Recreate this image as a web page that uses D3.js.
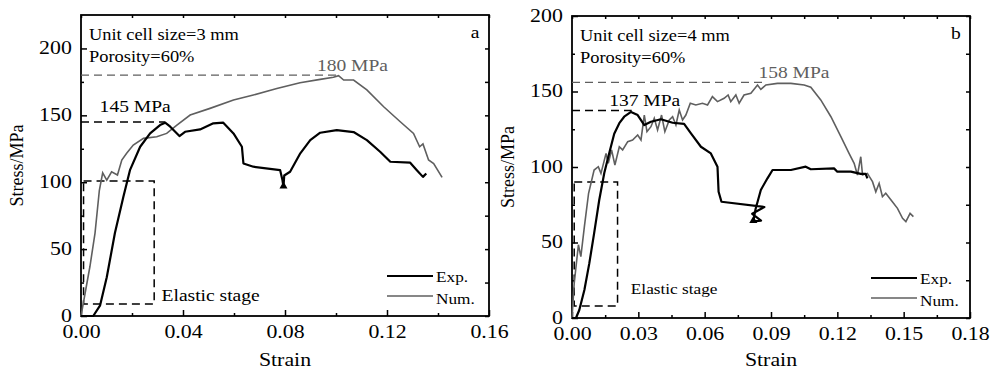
<!DOCTYPE html>
<html>
<head>
<meta charset="utf-8">
<script src="https://cdn.jsdelivr.net/npm/d3@7"></script>
<style>
  body { margin: 0; background: #fff; }
  text { font-family: "Liberation Serif", "Times New Roman", serif; }
</style>
</head>
<body>
<svg id="chart" width="991" height="371"></svg>
<script>
// ---- data (strain, stress MPa) ----
const expA = [[0,0],[0.0048,0],[0.0075,8],[0.0101,29],[0.0133,62],[0.0166,89],[0.0192,109],[0.0232,126.5],
  [0.0271,136.5],[0.031,142.7],[0.033,144.5],[0.035,141.5],[0.0386,134.5],[0.0408,137.7],[0.0467,139.5],
  [0.0519,144],[0.0558,144.5],[0.0598,136.5],[0.0631,126.5],[0.0637,114],[0.0676,111.6],[0.0781,109],
  [0.079,101.6],[0.0794,96.6],[0.0797,105],[0.082,107.8],[0.086,121.6],[0.0899,131.5],[0.0938,137],
  [0.1003,139],[0.1069,137.5],[0.1121,131.5],[0.1173,122.8],[0.1213,115.3],[0.1291,114.6],[0.1317,109],
  [0.1341,104],[0.1354,106.6]];
const numA = [[0,0],[0.0035,37],[0.0055,62],[0.0072,94],[0.0085,107],[0.0101,101.6],[0.012,107.8],
  [0.0143,105.4],[0.016,116.6],[0.0179,121.6],[0.0205,127.8],[0.0245,132.8],[0.0297,134],[0.0336,136.5],
  [0.0376,142.7],[0.0428,150.2],[0.0506,155.2],[0.0598,161.4],[0.0676,165.2],[0.0768,170],[0.0859,174.4],
  [0.0938,176.9],[0.099,178.4],[0.101,179.6],[0.103,176.4],[0.1069,176.4],[0.1121,169],[0.1187,156.4],
  [0.1252,145.2],[0.1304,136.5],[0.1328,126.5],[0.1341,128.6],[0.1363,116.6],[0.1383,114],[0.1416,103.6]];
const expB = [[0,0],[0.0018,0],[0.0033,5.3],[0.0056,18.5],[0.0078,36],[0.01,56],[0.0123,78],[0.0146,96],
  [0.0168,109],[0.0191,122],[0.0214,129],[0.0236,133.3],[0.0267,136.5],[0.0297,134.4],[0.0327,127.8],
  [0.0357,130],[0.0402,131.6],[0.0455,129.3],[0.0507,128.5],[0.0538,122.3],[0.0583,113.4],[0.0628,109],
  [0.0658,100.2],[0.0663,83.6],[0.0676,77],[0.087,73.5],[0.0815,69],[0.0855,64.5],[0.082,64],[0.083,72],
  [0.0854,84.8],[0.0884,92.5],[0.0907,98],[0.099,98],[0.1057,100.2],[0.108,98.5],[0.1185,99.1],[0.12,96.9],
  [0.1261,96.9],[0.1306,95.4],[0.1328,95.4],[0.1336,92.5]];
const numB = [[0,0],[0.001,23],[0.0029,48.5],[0.004,40.6],[0.0056,60.5],[0.0075,82.6],[0.01,98],[0.0119,100.2],
  [0.0131,95.8],[0.0154,109],[0.0164,102.4],[0.0179,111.3],[0.0194,101.3],[0.0214,113.4],[0.0229,111.3],
  [0.0252,116.8],[0.0274,117.9],[0.0297,121.2],[0.0312,117.9],[0.0327,134.4],[0.0339,123.4],[0.0357,126.7],
  [0.0372,132.3],[0.0387,124.5],[0.0405,134.4],[0.042,123.4],[0.044,131.1],[0.0455,133.3],[0.047,127.8],
  [0.0485,137.7],[0.05,131.1],[0.0515,134.4],[0.0535,142.2],[0.056,141.1],[0.059,142.2],[0.0613,141.1],
  [0.0635,146.6],[0.0658,143.3],[0.0688,145.5],[0.0706,147.7],[0.0718,143.3],[0.0741,147.7],[0.0756,142.2],
  [0.0778,147.7],[0.0809,148.8],[0.0839,154.3],[0.0854,151.4],[0.0877,154.3],[0.0929,155.4],[0.099,155.4],
  [0.105,154.3],[0.108,152.8],[0.1125,144.4],[0.1171,133.3],[0.1216,120.1],[0.1253,109],[0.1276,102.4],
  [0.1291,94.7],[0.1306,106.8],[0.1314,94.7],[0.1336,95.8],[0.1359,90.3],[0.1374,83.6],[0.1389,89.2],
  [0.1404,80.3],[0.1419,82.6],[0.1449,77],[0.1472,72.6],[0.1495,66],[0.151,63.8],[0.1529,69.3],[0.1544,67.1]];
// small triangles drawn on the experimental curves' dips
const dipA = [[0.0794, 97]];
const dipB = [[0.082, 64.5]];

const xTicksA = [0, 0.04, 0.08, 0.12, 0.16];
const xMinorA = [0.02, 0.06, 0.10, 0.14];
const xTicksB = [0, 0.03, 0.06, 0.09, 0.12, 0.15, 0.18];
const xMinorB = [0.015, 0.045, 0.075, 0.105, 0.135, 0.165];
const yTicks = [0, 50, 100, 150, 200];
const yMinor = [25, 75, 125, 175];

const GRAY = "#5f5f5f";
const SX = 1.15; // the figure's text is slightly stretched horizontally

const svg = d3.select("#chart");

function txt(g, x, y, s, size, color, anchor) {
  return g.append("text")
    .attr("transform", `translate(${x},${y}) scale(${SX},1)`)
    .attr("font-size", size)
    .attr("fill", color || "#000")
    .attr("text-anchor", anchor || "start")
    .text(s);
}

function drawPanel(p) {
  let x = d3.scaleLinear().domain(p.xDomain).range([p.left, p.right]);
  let y = d3.scaleLinear().domain(p.yDomain).range([p.bottom, p.top]);
  let g = svg.append("g");

  // ticks, all pointing inward
  let fmt = d3.format(".2f");
  let bx = g.append("g").attr("transform", `translate(0,${p.bottom})`)
    .call(d3.axisBottom(x).tickValues(p.xTicks).tickFormat(fmt).tickSize(-6).tickPadding(9));
  g.append("g").attr("transform", `translate(0,${p.bottom})`)
    .call(d3.axisBottom(x).tickValues(p.xMinor).tickFormat("").tickSize(-3));
  g.append("g").attr("transform", `translate(0,${p.top})`)
    .call(d3.axisTop(x).tickValues(p.xTicks.concat(p.xMinor)).tickFormat("").tickSize(-3));
  let ly = g.append("g").attr("transform", `translate(${p.left},0)`)
    .call(d3.axisLeft(y).tickValues(yTicks).tickSize(-6).tickPadding(8));
  g.append("g").attr("transform", `translate(${p.left},0)`)
    .call(d3.axisLeft(y).tickValues(yMinor).tickFormat("").tickSize(-3));
  g.append("g").attr("transform", `translate(${p.right},0)`)
    .call(d3.axisRight(y).tickValues(yTicks.concat(yMinor)).tickFormat("").tickSize(-4));
  g.selectAll(".domain").remove();
  g.selectAll(".tick line").attr("stroke", "#000").attr("stroke-width", 1.5);
  [bx, ly].forEach(a => a.selectAll("text")
    .attr("font-size", 19).attr("fill", "#000")
    .attr("transform", `scale(${SX},1)`));
  ly.selectAll("text").attr("dy", "0.28em");

  // frame
  g.append("rect")
    .attr("x", p.left).attr("y", p.top)
    .attr("width", p.right - p.left).attr("height", p.bottom - p.top)
    .attr("fill", "none").attr("stroke", "#000").attr("stroke-width", 1.8);

  // dashed guides
  let dash = "8,5";
  g.append("line").attr("x1", x(0)).attr("x2", x(p.numPeakX))
    .attr("y1", y(p.numPeak)).attr("y2", y(p.numPeak))
    .attr("stroke", GRAY).attr("stroke-width", 1.3).attr("stroke-dasharray", dash);
  g.append("line").attr("x1", x(0)).attr("x2", x(p.expPeakX))
    .attr("y1", y(p.expPeak)).attr("y2", y(p.expPeak))
    .attr("stroke", "#000").attr("stroke-width", 1.5).attr("stroke-dasharray", dash);
  g.append("rect")
    .attr("x", x(p.box[0])).attr("y", y(p.box[3]))
    .attr("width", x(p.box[1]) - x(p.box[0])).attr("height", y(p.box[2]) - y(p.box[3]))
    .attr("fill", "none").attr("stroke", "#000").attr("stroke-width", 1.5)
    .attr("stroke-dasharray", dash);

  // curves
  let line = d3.line().x(d => x(d[0])).y(d => y(d[1]));
  g.append("path").datum(p.num).attr("d", line)
    .attr("fill", "none").attr("stroke", GRAY).attr("stroke-width", 1.6);
  g.append("path").datum(p.exp).attr("d", line)
    .attr("fill", "none").attr("stroke", "#000").attr("stroke-width", 2.2)
    .attr("stroke-linejoin", "round");
  g.selectAll(".dip").data(p.dip).join("path")
    .attr("class", "dip")
    .attr("d", d3.symbol(d3.symbolTriangle, 28))
    .attr("transform", d => `translate(${x(d[0])},${y(d[1])})`)
    .attr("fill", "#000");

  // texts
  txt(g, p.left + 8, p.top + 25, p.cellText, 16);
  txt(g, p.left + 8, p.top + 47, "Porosity=60%", 16);
  txt(g, p.right - 14, p.top + 23, p.tag, 17, "#000", "middle");
  txt(g, x(p.numLabel[0]), p.numLabel[1], p.numPeakText, 17, GRAY);
  txt(g, x(p.expLabel[0]), p.expLabel[1], p.expPeakText, 17);
  txt(g, x(p.elastic[0]), p.elastic[1], "Elastic stage", p.elasticSize);

  // legend
  let lx = p.right - p.legendOff;
  g.append("line").attr("x1", lx).attr("x2", lx + 46).attr("y1", p.bottom - 40).attr("y2", p.bottom - 40)
    .attr("stroke", "#000").attr("stroke-width", 2);
  g.append("line").attr("x1", lx).attr("x2", lx + 46).attr("y1", p.bottom - 20).attr("y2", p.bottom - 20)
    .attr("stroke", GRAY).attr("stroke-width", 1.6);
  txt(g, lx + 49, p.bottom - 34, "Exp.", 15);
  txt(g, lx + 49, p.bottom - 12, "Num.", 15);

  // axis titles
  txt(g, (p.left + p.right) / 2, 366, "Strain", 19, "#000", "middle");
  g.append("text")
    .attr("transform", `translate(${p.left - 58},${(p.top + p.bottom) / 2}) rotate(-90)`)
    .attr("font-size", 18).attr("text-anchor", "middle").attr("fill", "#000")
    .text("Stress/MPa");
}

drawPanel({
  left: 81, right: 489, top: 15, bottom: 316,
  xDomain: [0, 0.16], yDomain: [0, 225],
  xTicks: xTicksA, xMinor: xMinorA,
  exp: expA, num: numA, dip: dipA,
  numPeak: 180, numPeakX: 0.1, expPeak: 145, expPeakX: 0.033,
  box: [0.001, 0.0287, 9, 101],
  cellText: "Unit cell size=3 mm", tag: "a",
  numPeakText: "180 MPa", numLabel: [0.0925, 71],
  expPeakText: "145 MPa", expLabel: [0.0073, 112],
  elastic: [0.0316, 301], elasticSize: 17,
  legendOff: 102
});

drawPanel({
  left: 572, right: 970, top: 16, bottom: 318,
  xDomain: [0, 0.18], yDomain: [0, 200],
  xTicks: xTicksB, xMinor: xMinorB,
  exp: expB, num: numB, dip: dipB,
  numPeak: 156, numPeakX: 0.087, expPeak: 137.5, expPeakX: 0.027,
  box: [0.001, 0.0206, 8, 90],
  cellText: "Unit cell size=4 mm", tag: "b",
  numPeakText: "158 MPa", numLabel: [0.0843, 78],
  expPeakText: "137 MPa", expLabel: [0.0168, 106],
  elastic: [0.0266, 294], elasticSize: 15,
  legendOff: 99
});
</script>
</body>
</html>
